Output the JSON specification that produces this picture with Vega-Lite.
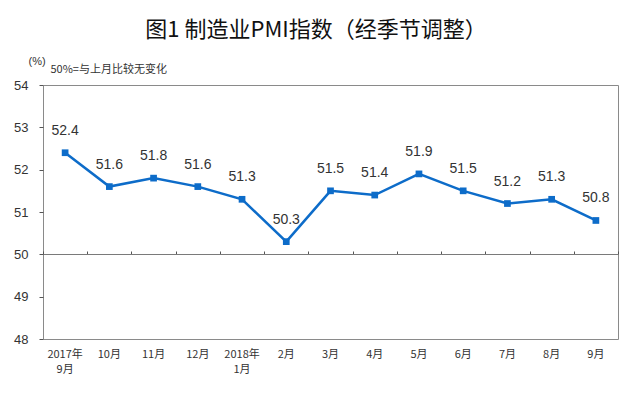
{
  "$schema": "https://vega.github.io/schema/vega-lite/v6.json",
  "width": 575,
  "height": 254,
  "autosize": {"type": "none"},
  "padding": {"left": 43, "top": 85, "right": 12, "bottom": 59},
  "background": "white",
  "title": {
    "text": "图1  制造业PMI指数（经季节调整）",
    "font": "Noto Sans CJK SC",
    "fontSize": 22,
    "fontWeight": "normal",
    "color": "#111111",
    "anchor": "middle",
    "frame": "bounds",
    "offset": 13
  },
  "config": {
    "view": {"stroke": "#8a8a8a", "strokeWidth": 1},
    "axis": {"grid": false}
  },
  "data": {
    "values": [
      {"month": "2017年|9月", "pmi": 52.4},
      {"month": "10月", "pmi": 51.6},
      {"month": "11月", "pmi": 51.8},
      {"month": "12月", "pmi": 51.6},
      {"month": "2018年|1月", "pmi": 51.3},
      {"month": "2月", "pmi": 50.3},
      {"month": "3月", "pmi": 51.5},
      {"month": "4月", "pmi": 51.4},
      {"month": "5月", "pmi": 51.9},
      {"month": "6月", "pmi": 51.5},
      {"month": "7月", "pmi": 51.2},
      {"month": "8月", "pmi": 51.3},
      {"month": "9月", "pmi": 50.8}
    ]
  },
  "encoding": {
    "x": {"field": "month", "type": "nominal", "sort": null},
    "y": {
      "field": "pmi",
      "type": "quantitative",
      "scale": {"domain": [48, 54], "nice": false, "zero": false},
      "axis": {
        "values": [48, 49, 50, 51, 52, 53, 54],
        "domain": false,
        "ticks": true,
        "tickSize": 4,
        "tickColor": "#555555",
        "labelPadding": 11,
        "labelFont": "Liberation Sans",
        "labelFontSize": 13,
        "labelColor": "#333333",
        "title": "(%)",
        "titleFont": "Liberation Sans",
        "titleFontSize": 11,
        "titleFontWeight": "normal",
        "titleColor": "#333333",
        "titleAngle": 0,
        "titleAlign": "left",
        "titleBaseline": "middle",
        "titleX": -15,
        "titleY": -24
      }
    }
  },
  "resolve": {"axis": {"x": "independent"}},
  "layer": [
    {
      "mark": {"type": "line", "color": "#0d6cc9", "strokeWidth": 2.5},
      "encoding": {
        "x": {
          "field": "month",
          "type": "nominal",
          "sort": null,
          "axis": {
            "orient": "bottom",
            "domain": false,
            "ticks": false,
            "labelAngle": 0,
            "labelPadding": 9,
            "labelFont": "Noto Sans CJK SC",
            "labelFontSize": 11,
            "labelColor": "#333333",
            "labelLineHeight": 15,
            "labelBaseline": "top",
            "labelExpr": "split(datum.value, '|')",
            "title": null
          }
        }
      }
    },
    {
      "mark": {"type": "point", "shape": "square", "filled": true, "size": 45, "color": "#0d6cc9", "opacity": 1},
      "encoding": {
        "x": {
          "field": "month",
          "type": "nominal",
          "sort": null,
          "axis": {
            "orient": "top",
            "offset": -169,
            "domain": true,
            "domainColor": "#7a7a7a",
            "domainWidth": 1.2,
            "ticks": true,
            "tickBand": "extent",
            "tickSize": 3,
            "tickColor": "#555555",
            "labels": false,
            "title": "50%=与上月比较无变化",
            "titleFont": "Noto Sans CJK SC",
            "titleFontSize": 11,
            "titleFontWeight": "normal",
            "titleColor": "#333333",
            "titleAngle": 0,
            "titleAlign": "left",
            "titleBaseline": "middle",
            "titleX": 7,
            "titleY": -185
          }
        }
      }
    },
    {
      "mark": {"type": "text", "dy": -22, "font": "Liberation Sans", "fontSize": 14, "color": "#333333"},
      "encoding": {
        "x": {"field": "month", "type": "nominal", "sort": null, "axis": null},
        "text": {"field": "pmi", "type": "quantitative", "format": ".1f"}
      }
    }
  ]
}
